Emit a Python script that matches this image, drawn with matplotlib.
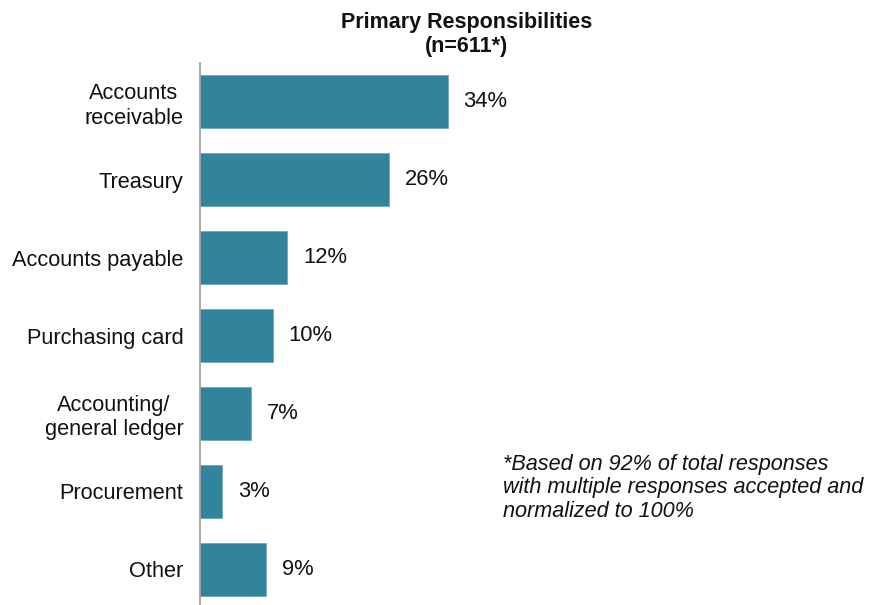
import matplotlib
matplotlib.use("Agg")
import matplotlib.pyplot as plt

categories = ["Accounts\nreceivable", "Treasury", "Accounts payable", "Purchasing card",
              "Accounting/\ngeneral ledger", "Procurement", "Other"]
values = [34, 26, 12, 10, 7, 3, 9]
value_labels = ["34%", "26%", "12%", "10%", "7%", "3%", "9%"]
title_lines = ["Primary Responsibilities", "(n=611*)"]
footnote = "*Based on 92% of total responses\nwith multiple responses accepted and\nnormalized to 100%"

plt.rcParams["font.family"] = ["Liberation Sans", "DejaVu Sans"]

W, H = 874, 605
fig = plt.figure(figsize=(W / 100, H / 100), dpi=100)
ax = fig.add_axes([200 / W, 0, (W - 200) / W, 542 / H])

bar_color = "#31849B"
ypos = list(range(len(categories)))
ax.barh(ypos, values, height=0.68, color=bar_color, edgecolor="#6FAABB", linewidth=0.6)

ax.set_xlim(0, 674 / 7.28)
ax.set_ylim(6.46, -0.5)

for y, v, lab in zip(ypos, values, value_labels):
    ax.annotate(lab, xy=(v, y), xytext=(16, 0), textcoords="offset pixels",
                va="center", ha="left", fontsize=15.8, color="#111111")

ax.set_yticks(ypos)
ax.set_yticklabels(categories, fontsize=15.7, color="#111111", multialignment="center",
                   linespacing=1.22)
ax.tick_params(axis="y", length=0, pad=12)
ax.set_xticks([])

for s in ["top", "right", "bottom"]:
    ax.spines[s].set_visible(False)
ax.spines["left"].set_color("#A0A0A0")
ax.spines["left"].set_linewidth(1.3)

fig.text(467 / W, 1 - 28 / H, title_lines[0], ha="center", va="baseline",
         fontsize=15.5, fontweight="bold", color="#111111")
fig.text(467 / W, 1 - 52 / H, title_lines[1], ha="center", va="baseline",
         fontsize=15.5, fontweight="bold", color="#111111")

fig.text(503 / W, 1 - 454 / H, footnote, ha="left", va="top", fontsize=15.6,
         fontstyle="italic", linespacing=1.15, color="#111111")

fig.savefig("out.png", dpi=100)
